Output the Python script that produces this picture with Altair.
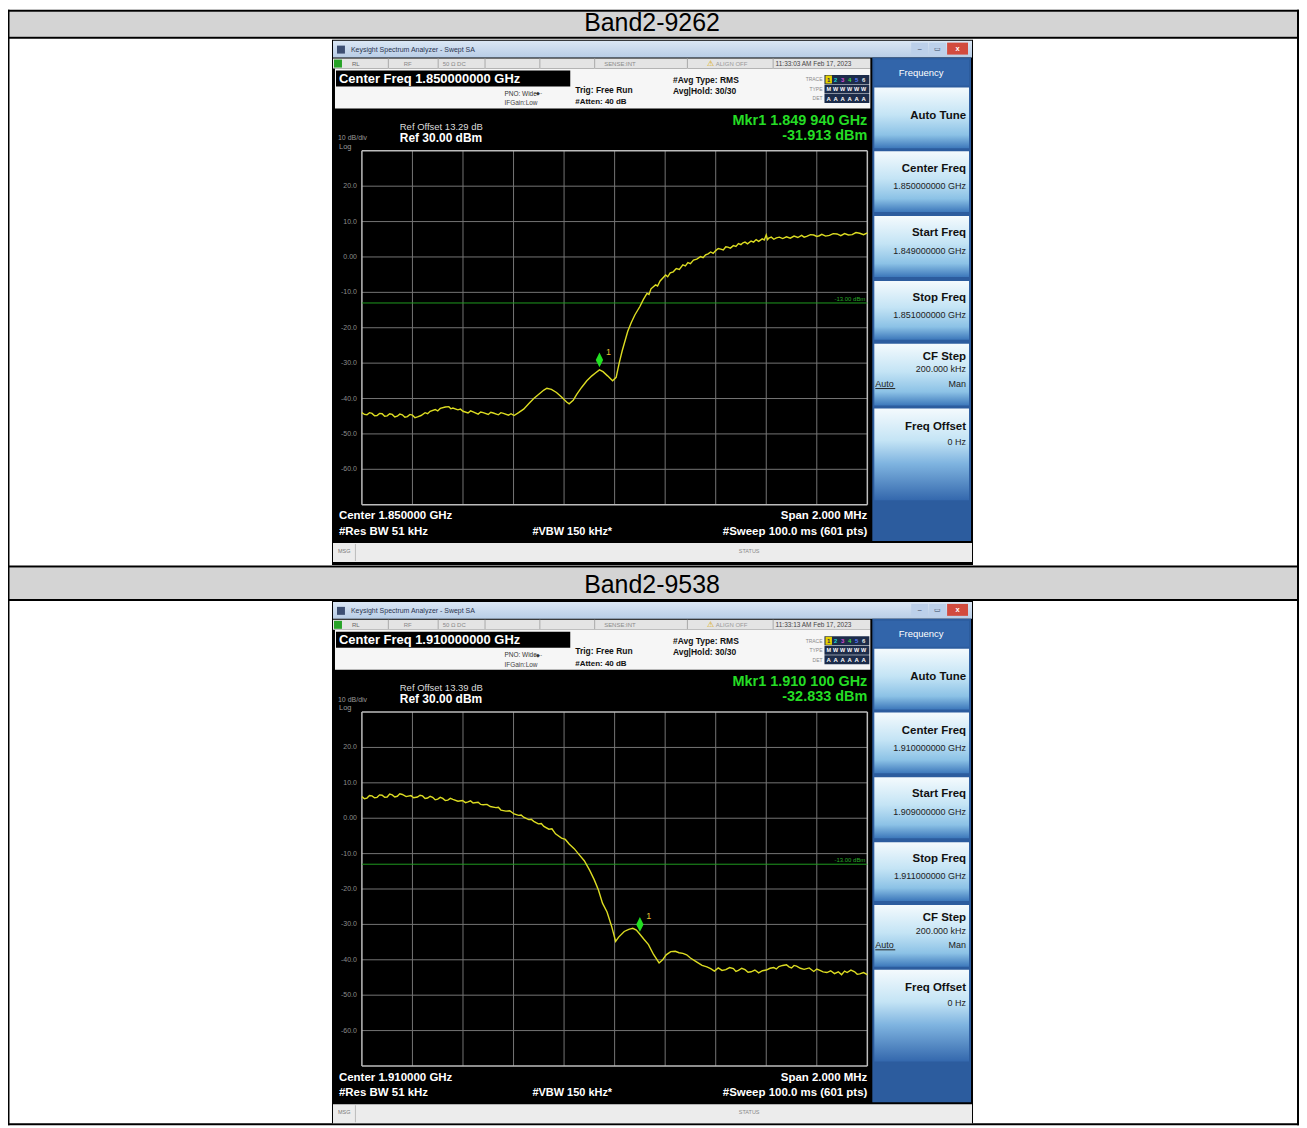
import altair as alt
import pandas as pd

# ---------------- data ----------------
PANEL_TITLES = ["Band2-9262", "Band2-9538"]
CENTER_FREQ = ["1.850000000", "1.910000000"]
CENTER_SHORT = ["1.850000", "1.910000"]
START_FREQ = ["1.849000000", "1.909000000"]
STOP_FREQ = ["1.851000000", "1.911000000"]
START_MHZ = [1849.0, 1909.0]
STOP_MHZ = [1851.0, 1911.0]
REF_OFFSET = ["13.29", "13.39"]
TIMESTAMPS = ["11:33:03 AM Feb 17, 2023", "11:33:13 AM Feb 17, 2023"]
MKR_FREQ_MHZ = [1849.940, 1910.100]
MKR_LABEL = ["1.849 940", "1.910 100"]
MKR_DBM = [-31.913, -32.833]
REF_LEVEL = 30.0
DB_PER_DIV = 10.0
DISPLAY_LINE_DBM = -13.0
Y_TICK_DBM = [20, 10, 0, -10, -20, -30, -40, -50, -60]
Y_TICK_LABELS = ["20.0", "10.0", "0.00", "-10.0", "-20.0", "-30.0", "-40.0", "-50.0", "-60.0"]

TRACE1 = [
    (1849.000, -44.0), (1849.010, -44.5), (1849.020, -44.6), (1849.030, -44.0), (1849.040, -44.2),
    (1849.050, -44.9), (1849.060, -44.8), (1849.070, -44.2), (1849.080, -44.3), (1849.090, -45.0),
    (1849.100, -44.9), (1849.110, -44.3), (1849.120, -44.5), (1849.130, -45.2), (1849.140, -45.0),
    (1849.150, -44.4), (1849.160, -44.6), (1849.170, -45.3), (1849.180, -45.1), (1849.190, -44.5),
    (1849.200, -44.7), (1849.210, -45.4), (1849.220, -45.2), (1849.234, -44.8), (1849.250, -44.0),
    (1849.260, -44.3), (1849.270, -43.6), (1849.290, -43.1), (1849.300, -43.5), (1849.310, -42.8),
    (1849.330, -42.4), (1849.344, -42.3), (1849.352, -42.9), (1849.360, -42.7), (1849.380, -43.2),
    (1849.390, -43.0), (1849.400, -43.6), (1849.420, -44.1), (1849.430, -43.5), (1849.440, -43.8),
    (1849.460, -44.4), (1849.470, -43.8), (1849.480, -44.0), (1849.500, -44.5), (1849.510, -43.9),
    (1849.520, -44.1), (1849.540, -44.6), (1849.550, -44.0), (1849.560, -44.2), (1849.580, -44.7),
    (1849.590, -44.3), (1849.602, -44.8), (1849.620, -44.0), (1849.640, -43.0), (1849.660, -41.5),
    (1849.680, -40.0), (1849.700, -38.8), (1849.720, -37.6), (1849.732, -37.1), (1849.750, -37.4),
    (1849.770, -38.3), (1849.790, -39.6), (1849.810, -41.0), (1849.820, -41.5), (1849.836, -40.5),
    (1849.850, -38.8), (1849.870, -36.8), (1849.890, -35.0), (1849.910, -33.6), (1849.924, -32.8),
    (1849.940, -31.9), (1849.954, -32.4), (1849.972, -33.6), (1849.992, -35.0), (1850.006, -34.0),
    (1850.018, -30.0), (1850.030, -26.5), (1850.052, -21.0), (1850.066, -18.5), (1850.080, -16.4),
    (1850.100, -14.0), (1850.114, -12.0), (1850.128, -10.3), (1850.136, -10.6), (1850.144, -9.0),
    (1850.162, -7.9), (1850.170, -8.2), (1850.180, -6.8), (1850.202, -5.1), (1850.210, -5.6),
    (1850.220, -4.5), (1850.232, -4.2), (1850.244, -3.3), (1850.256, -3.5), (1850.270, -2.2),
    (1850.280, -2.5), (1850.290, -1.6), (1850.300, -1.9), (1850.312, -0.9), (1850.325, -0.6),
    (1850.340, 0.1), (1850.350, -0.2), (1850.360, 0.6), (1850.370, 0.9), (1850.380, 1.4),
    (1850.390, 1.0), (1850.400, 1.8), (1850.410, 2.4), (1850.420, 2.2), (1850.430, 2.0),
    (1850.440, 2.9), (1850.448, 2.8), (1850.458, 2.5), (1850.470, 3.2), (1850.480, 3.0),
    (1850.490, 3.8), (1850.500, 3.5), (1850.508, 4.0), (1850.516, 4.2), (1850.526, 3.7),
    (1850.540, 4.5), (1850.550, 4.2), (1850.560, 4.9), (1850.570, 4.4), (1850.584, 5.1),
    (1850.592, 4.8), (1850.600, 6.2), (1850.605, 4.9), (1850.610, 5.3), (1850.620, 5.6),
    (1850.630, 5.0), (1850.640, 5.4), (1850.652, 5.6), (1850.665, 5.2), (1850.680, 5.7),
    (1850.695, 5.3), (1850.710, 5.9), (1850.725, 5.5), (1850.740, 6.1), (1850.750, 5.6),
    (1850.760, 5.8), (1850.775, 6.3), (1850.788, 6.2), (1850.800, 5.8), (1850.810, 6.0),
    (1850.820, 6.4), (1850.835, 5.9), (1850.850, 6.1), (1850.865, 6.6), (1850.880, 6.5),
    (1850.895, 6.0), (1850.910, 6.6), (1850.925, 6.2), (1850.940, 6.3), (1850.955, 6.9),
    (1850.970, 6.7), (1850.985, 6.3), (1851.000, 6.8),
]

TRACE2 = [
    (1909.000, 6.1), (1909.010, 5.5), (1909.020, 5.7), (1909.030, 6.4), (1909.040, 6.3),
    (1909.050, 5.8), (1909.060, 5.9), (1909.070, 6.6), (1909.080, 6.5), (1909.090, 5.9),
    (1909.100, 6.0), (1909.110, 6.8), (1909.120, 6.6), (1909.130, 6.0), (1909.140, 6.2),
    (1909.150, 6.9), (1909.160, 6.7), (1909.175, 6.1), (1909.194, 6.4), (1909.205, 5.8),
    (1909.220, 6.0), (1909.230, 6.5), (1909.240, 6.3), (1909.250, 5.6), (1909.260, 5.7),
    (1909.270, 6.2), (1909.280, 5.9), (1909.290, 5.2), (1909.300, 5.4), (1909.310, 5.9),
    (1909.320, 5.6), (1909.330, 5.0), (1909.340, 5.1), (1909.350, 5.6), (1909.360, 5.3),
    (1909.380, 4.8), (1909.398, 5.0), (1909.410, 4.4), (1909.420, 4.6), (1909.430, 4.9),
    (1909.440, 4.3), (1909.460, 4.5), (1909.470, 3.9), (1909.480, 3.8), (1909.495, 3.9),
    (1909.508, 3.3), (1909.530, 3.0), (1909.540, 3.1), (1909.550, 2.3), (1909.570, 2.0),
    (1909.585, 2.1), (1909.602, 1.2), (1909.620, 0.8), (1909.630, 0.9), (1909.640, 0.3),
    (1909.660, -0.4), (1909.670, -0.3), (1909.680, -0.9), (1909.698, -1.6), (1909.710, -1.5),
    (1909.720, -2.3), (1909.740, -3.1), (1909.752, -3.0), (1909.766, -4.4), (1909.790, -5.6),
    (1909.805, -6.0), (1909.820, -7.3), (1909.840, -8.6), (1909.862, -10.5), (1909.880, -12.0),
    (1909.902, -14.8), (1909.920, -17.5), (1909.936, -20.3), (1909.952, -24.0), (1909.970, -26.5),
    (1909.988, -30.5), (1910.004, -34.8), (1910.016, -33.6), (1910.038, -32.0), (1910.056, -31.4),
    (1910.072, -31.1), (1910.086, -31.6), (1910.100, -32.8), (1910.116, -34.2), (1910.134, -35.7),
    (1910.154, -38.5), (1910.176, -40.9), (1910.190, -40.0), (1910.204, -38.6), (1910.222, -37.7),
    (1910.240, -37.6), (1910.255, -38.0), (1910.270, -38.2), (1910.285, -38.6), (1910.300, -39.5),
    (1910.324, -40.6), (1910.346, -41.6), (1910.365, -42.0), (1910.380, -42.5), (1910.395, -43.2),
    (1910.410, -42.3), (1910.425, -43.0), (1910.440, -42.8), (1910.455, -42.2), (1910.470, -42.5),
    (1910.480, -43.3), (1910.490, -43.0), (1910.503, -42.4), (1910.516, -42.8), (1910.528, -43.5),
    (1910.540, -43.4), (1910.555, -42.9), (1910.570, -43.7), (1910.585, -43.1), (1910.600, -42.9),
    (1910.615, -42.4), (1910.630, -42.2), (1910.640, -42.6), (1910.650, -41.9), (1910.665, -41.6),
    (1910.680, -41.4), (1910.690, -42.0), (1910.700, -42.3), (1910.710, -41.6), (1910.720, -41.8),
    (1910.735, -42.4), (1910.750, -42.7), (1910.770, -42.3), (1910.788, -43.3), (1910.800, -42.6),
    (1910.810, -42.9), (1910.825, -43.4), (1910.840, -43.6), (1910.855, -43.1), (1910.870, -43.9),
    (1910.885, -43.4), (1910.898, -44.2), (1910.910, -43.2), (1910.920, -43.6), (1910.935, -42.9),
    (1910.950, -43.4), (1910.960, -44.1), (1910.970, -44.0), (1910.985, -43.6), (1911.000, -44.2),
]
TRACES = [TRACE1, TRACE2]

# ---------------- helpers ----------------
FONT = "Liberation Sans"
OX, OY = 8, 8
ONE = alt.Data(values=[{"k": 0}])


def R(x1, y1, x2, y2, fill, dy=0):
    return alt.Chart(ONE).mark_rect(fill=fill, strokeWidth=0).encode(
        x=alt.value(x1 - OX), x2=alt.value(x2 - OX),
        y=alt.value(y1 - OY + dy), y2=alt.value(y2 - OY + dy))


def T(s, x, y, size=8, color="#ffffff", weight="normal", align="left", dy=0, font=FONT):
    base = y + 0.36 * size
    return alt.Chart(ONE).mark_text(font=font, fontSize=size, fontWeight=weight, align=align,
                                    baseline="alphabetic", color=color).encode(
        x=alt.value(x - OX), y=alt.value(base - OY + dy), text=alt.value(s))


def grad(stops):
    return {"gradient": "linear", "x1": 0, "y1": 0, "x2": 0, "y2": 1,
            "stops": [{"offset": o, "color": c} for o, c in stops]}


def G(x1, y1, x2, y2, stops, dy=0):
    return alt.Chart(ONE).mark_rect(fill=grad(stops), strokeWidth=0).encode(
        x=alt.value(x1 - OX), x2=alt.value(x2 - OX),
        y=alt.value(y1 - OY + dy), y2=alt.value(y2 - OY + dy))


# ---------------- table ----------------
layers = []
layers.append(R(8, 8, 1303, 1127, "#ffffff"))
layers.append(R(8, 10, 1301, 35, "#d4d4d4"))
layers.append(R(8, 567.5, 1301, 599, "#d4d4d4"))
for (a, b) in [(8, 10), (35, 37), (565.5, 567.5), (599, 601), (1125, 1127)]:
    layers.append(R(8, a, 1303, b, "#000000"))
layers.append(R(8, 8, 9.5, 1127, "#000000"))
layers.append(R(1301, 8, 1303, 1127, "#000000"))
layers.append(T(PANEL_TITLES[0], 654, 20.5, size=25, color="#000000", align="center"))
layers.append(T(PANEL_TITLES[1], 654, 584, size=25, color="#000000", align="center"))

BTN = [(0.0, "#f4fafd"), (0.45, "#c4e4f5"), (0.78, "#8cc2e6"), (1.0, "#3d78bb")]


def screenshot(i, dy):
    L = []
    L.append(R(333, 38, 976, 565 if i == 0 else 562, "#000000", dy))
    # window title bar
    L.append(G(334, 39, 975, 56, [(0, "#dbe7f5"), (1, "#b8cde6")], dy))
    L.append(R(338, 44, 346, 52, "#3d4f73", dy))
    L.append(T("Keysight Spectrum Analyzer - Swept SA", 352, 47.5, 7, "#2a3550", dy=dy))
    L.append(R(914, 41, 931, 53, "#bcd0ea", dy))
    L.append(R(932, 41, 949, 53, "#bcd0ea", dy))
    L.append(R(950, 41, 971, 53, "#d24b3e", dy))
    L.append(T("\u2013", 922.5, 47, 7, "#34465f", align="center", dy=dy))
    L.append(T("\u25ad", 940.5, 47, 7, "#34465f", align="center", dy=dy))
    L.append(T("x", 960.5, 46.5, 7.5, "#ffffff", "bold", align="center", dy=dy))
    # status row
    L.append(R(334, 57, 873, 67, "#e4e4e4", dy))
    L.append(R(335, 58, 343, 66, "#27a327", dy))
    for xd in [389, 439, 486, 541, 596, 689, 775]:
        L.append(R(xd, 57, xd + 1, 67, "#a9a9a9", dy))
    L.append(T("RL", 353, 62, 6, "#6a6a6a", dy=dy))
    L.append(T("RF", 405, 62, 6, "#8a8a8a", dy=dy))
    L.append(T("50 \u03a9   DC", 444, 62, 6, "#8a8a8a", dy=dy))
    L.append(T("SENSE:INT", 606, 62, 6, "#8a8a8a", dy=dy))
    L.append(T("\u26a0", 713, 61.5, 8, "#d8a400", align="center", dy=dy))
    L.append(T("ALIGN OFF", 718, 62, 6, "#9a9a9a", dy=dy))
    L.append(T(TIMESTAMPS[i], 778, 62, 6.5, "#444444", dy=dy))
    # settings panel
    L.append(R(336, 67, 873, 107, "#f6f6f6", dy))
    L.append(R(337, 69, 572, 85, "#000000", dy))
    L.append(T(f"Center Freq {CENTER_FREQ[i]} GHz", 340, 77, 13, "#ffffff", "bold", dy=dy))
    L.append(T("PNO: Wide", 506, 92, 6.5, "#333333", dy=dy))
    L.append(T("-\u25c6-", 536, 92, 5.5, "#333333", dy=dy))
    L.append(T("IFGain:Low", 506, 101.5, 6.5, "#444444", dy=dy))
    L.append(T("Trig: Free Run", 577, 88, 8.5, "#111111", "bold", dy=dy))
    L.append(T("#Atten: 40 dB", 577, 100, 8, "#111111", "bold", dy=dy))
    L.append(T("#Avg Type: RMS", 675, 78, 8.5, "#111111", "bold", dy=dy))
    L.append(T("Avg|Hold: 30/30", 675, 89, 8.5, "#111111", "bold", dy=dy))
    L.append(T("TRACE", 825, 78, 5, "#8a8a8a", align="right", dy=dy))
    L.append(T("TYPE", 825, 87.5, 5, "#8a8a8a", align="right", dy=dy))
    L.append(T("DET", 825, 97, 5, "#8a8a8a", align="right", dy=dy))
    for (a, b) in [(73.5, 82.5), (83, 92), (92.5, 101.5)]:
        L.append(R(827, a, 872, b, "#1d2c4a", dy))
    L.append(R(828, 74, 834.5, 82, "#e6d000", dy))
    tcols = ["#1d2c4a", "#19d6d6", "#d64ad6", "#3fd83f", "#5a78ff", "#e8e8e8"]
    for k in range(6):
        L.append(T(str(k + 1), 831.2 + 7 * k, 78, 6, tcols[k], "bold", align="center", dy=dy))
        L.append(T("M" if k == 0 else "W", 831.2 + 7 * k, 87.5, 5.5, "#ffffff", "bold", align="center", dy=dy))
        L.append(T("A", 831.2 + 7 * k, 97, 6, "#ffffff", "bold", align="center", dy=dy))
    # header texts in black area
    L.append(T(f"Ref Offset {REF_OFFSET[i]} dB", 401, 125, 9.5, "#dcdcdc", dy=dy))
    L.append(T("10 dB/div", 339, 136.5, 7, "#9a9a9a", dy=dy))
    L.append(T("Ref 30.00 dBm", 401, 136.5, 12, "#ffffff", "bold", dy=dy))
    L.append(T("Log", 340, 145, 7.5, "#9a9a9a", dy=dy))
    L.append(T(f"Mkr1 {MKR_LABEL[i]} GHz", 870, 118, 14.5, "#25dd25", "bold", align="right", dy=dy))
    L.append(T(f"{MKR_DBM[i]:.3f} dBm", 870, 133.5, 14.5, "#25dd25", "bold", align="right", dy=dy))
    # footer texts
    L.append(T(f"Center {CENTER_SHORT[i]} GHz", 340, 515, 11.5, "#ffffff", "bold", dy=dy))
    L.append(T("#Res BW 51 kHz", 340, 530.5, 11.5, "#ffffff", "bold", dy=dy))
    L.append(T("#VBW 150 kHz*", 534, 530.5, 11, "#ffffff", "bold", dy=dy))
    L.append(T("Span 2.000 MHz", 870, 515, 11.5, "#ffffff", "bold", align="right", dy=dy))
    L.append(T("#Sweep  100.0 ms (601 pts)", 870, 530.5, 11.5, "#ffffff", "bold", align="right", dy=dy))
    # status bar
    L.append(R(334, 543, 975, 562, "#ececec", dy))
    L.append(R(356, 544, 357, 561, "#bbbbbb", dy))
    L.append(T("MSG", 339, 551, 5.5, "#7a7a7a", dy=dy))
    L.append(T("STATUS", 741, 551, 5.5, "#8a8a8a", dy=dy))
    # softkey panel
    L.append(R(875, 56, 974, 541, "#2c5c9e", dy))
    L.append(R(877, 58, 972, 84, "#3265aa", dy))
    L.append(T("Frequency", 924, 71, 9.5, "#ffffff", align="center", dy=dy))
    for (a, b) in [(86, 147), (150, 211), (215, 276), (280, 339), (343, 405)]:
        L.append(G(877, a, 972, b, BTN, dy))
    L.append(G(877, 408, 972, 500, [(0.0, "#f4fafd"), (0.35, "#c4e4f5"), (0.6, "#7fb4e0"), (1.0, "#3468ad")], dy))
    kb = "#111111"
    L.append(T("Auto Tune", 969, 113, 11.5, kb, "bold", align="right", dy=dy))
    L.append(T("Center Freq", 969, 167, 11.5, kb, "bold", align="right", dy=dy))
    L.append(T(f"{CENTER_FREQ[i]} GHz", 969, 185, 9, "#222222", align="right", dy=dy))
    L.append(T("Start Freq", 969, 231, 11.5, kb, "bold", align="right", dy=dy))
    L.append(T(f"{START_FREQ[i]} GHz", 969, 249.5, 9, "#222222", align="right", dy=dy))
    L.append(T("Stop Freq", 969, 296, 11.5, kb, "bold", align="right", dy=dy))
    L.append(T(f"{STOP_FREQ[i]} GHz", 969, 314, 9, "#222222", align="right", dy=dy))
    L.append(T("CF Step", 969, 355, 11.5, kb, "bold", align="right", dy=dy))
    L.append(T("200.000 kHz", 969, 368.5, 9, "#222222", align="right", dy=dy))
    L.append(T("Auto", 878, 383, 9, "#222222", dy=dy))
    L.append(R(878, 387.5, 898, 388.5, "#222222", dy))
    L.append(T("Man", 969, 383, 9, "#222222", align="right", dy=dy))
    L.append(T("Freq Offset", 969, 425, 11.5, kb, "bold", align="right", dy=dy))
    L.append(T("0 Hz", 969, 441, 9, "#222222", align="right", dy=dy))
    return L


def spectrum(i, dy):
    f0, f1 = START_MHZ[i], STOP_MHZ[i]
    gx0, gx1, gy0, gy1 = 363, 870, 149.5, 504.5
    bottom = REF_LEVEL - 10 * DB_PER_DIV
    xs = alt.Scale(domain=[f0, f1], range=[gx0 - OX, gx1 - OX], nice=False, zero=False)
    ys = alt.Scale(domain=[bottom, REF_LEVEL], range=[gy1 - OY + dy, gy0 - OY + dy], nice=False, zero=False)
    X = alt.X("f:Q", scale=xs, axis=None)
    Y = alt.Y("d:Q", scale=ys, axis=None)
    vgrid = pd.DataFrame({"f": [f0 + k * (f1 - f0) / 10 for k in range(1, 10)]})
    hgrid = pd.DataFrame({"d": [REF_LEVEL - k * DB_PER_DIV for k in range(1, 10)]})
    vedge = pd.DataFrame({"f": [f0, f1]})
    hedge = pd.DataFrame({"d": [bottom, REF_LEVEL]})
    ticks = pd.DataFrame({"d": Y_TICK_DBM, "lab": Y_TICK_LABELS})
    dline = pd.DataFrame({"d": [DISPLAY_LINE_DBM], "lab": [f"{DISPLAY_LINE_DBM:.2f} dBm"]})
    tr = pd.DataFrame(TRACES[i], columns=["f", "d"])
    mk = pd.DataFrame({"f": [MKR_FREQ_MHZ[i]], "d": [MKR_DBM[i]]})

    ya, yb = alt.value(gy0 - OY + dy), alt.value(gy1 - OY + dy)
    xa, xb = alt.value(gx0 - OX), alt.value(gx1 - OX)
    lay = [
        alt.Chart(vgrid).mark_rule(color="#747474", strokeWidth=1).encode(x=X, y=ya, y2=yb),
        alt.Chart(hgrid).mark_rule(color="#747474", strokeWidth=1).encode(y=Y, x=xa, x2=xb),
        alt.Chart(vedge).mark_rule(color="#bdbdbd", strokeWidth=1.5).encode(x=X, y=ya, y2=yb),
        alt.Chart(hedge).mark_rule(color="#bdbdbd", strokeWidth=1.5).encode(y=Y, x=xa, x2=xb),
        alt.Chart(ticks).mark_text(font=FONT, fontSize=7, align="right", baseline="middle",
                                   color="#8c8c8c").encode(y=Y, x=alt.value(358 - OX), text="lab:N"),
        alt.Chart(dline).mark_rule(color="#1f9a1f", strokeWidth=1).encode(y=Y, x=xa, x2=xb),
        alt.Chart(dline).mark_text(font=FONT, fontSize=6, align="right", baseline="bottom", dy=-1,
                                   color="#2aa82a").encode(y=Y, x=alt.value(868 - OX), text="lab:N"),
        alt.Chart(tr).mark_line(color="#dcdc22", strokeWidth=1.4).encode(x=X, y=Y, order="f:Q"),
        alt.Chart(mk).mark_point(shape="M0,-1L0.5,0L0,1L-0.5,0Z", filled=True, size=220,
                                 color="#22e022", opacity=1, yOffset=-10).encode(x=X, y=Y),
        alt.Chart(mk).mark_text(font=FONT, fontSize=9, dx=9, dy=-18, color="#e6c034").encode(
            x=X, y=Y, text=alt.value("1")),
    ]
    return alt.layer(*lay)


for i, dy in enumerate([0, 563]):
    layers += screenshot(i, dy)

chart = alt.layer(*layers, spectrum(0, 0), spectrum(1, 563)).resolve_scale(
    x="independent", y="independent"
).properties(
    width=1295, height=1119, autosize=alt.AutoSizeParams(type="none"), padding=0,
    background="#ffffff"
).configure_view(stroke=None)

chart.save("out.html", embed_options={"renderer": "svg", "actions": False})
